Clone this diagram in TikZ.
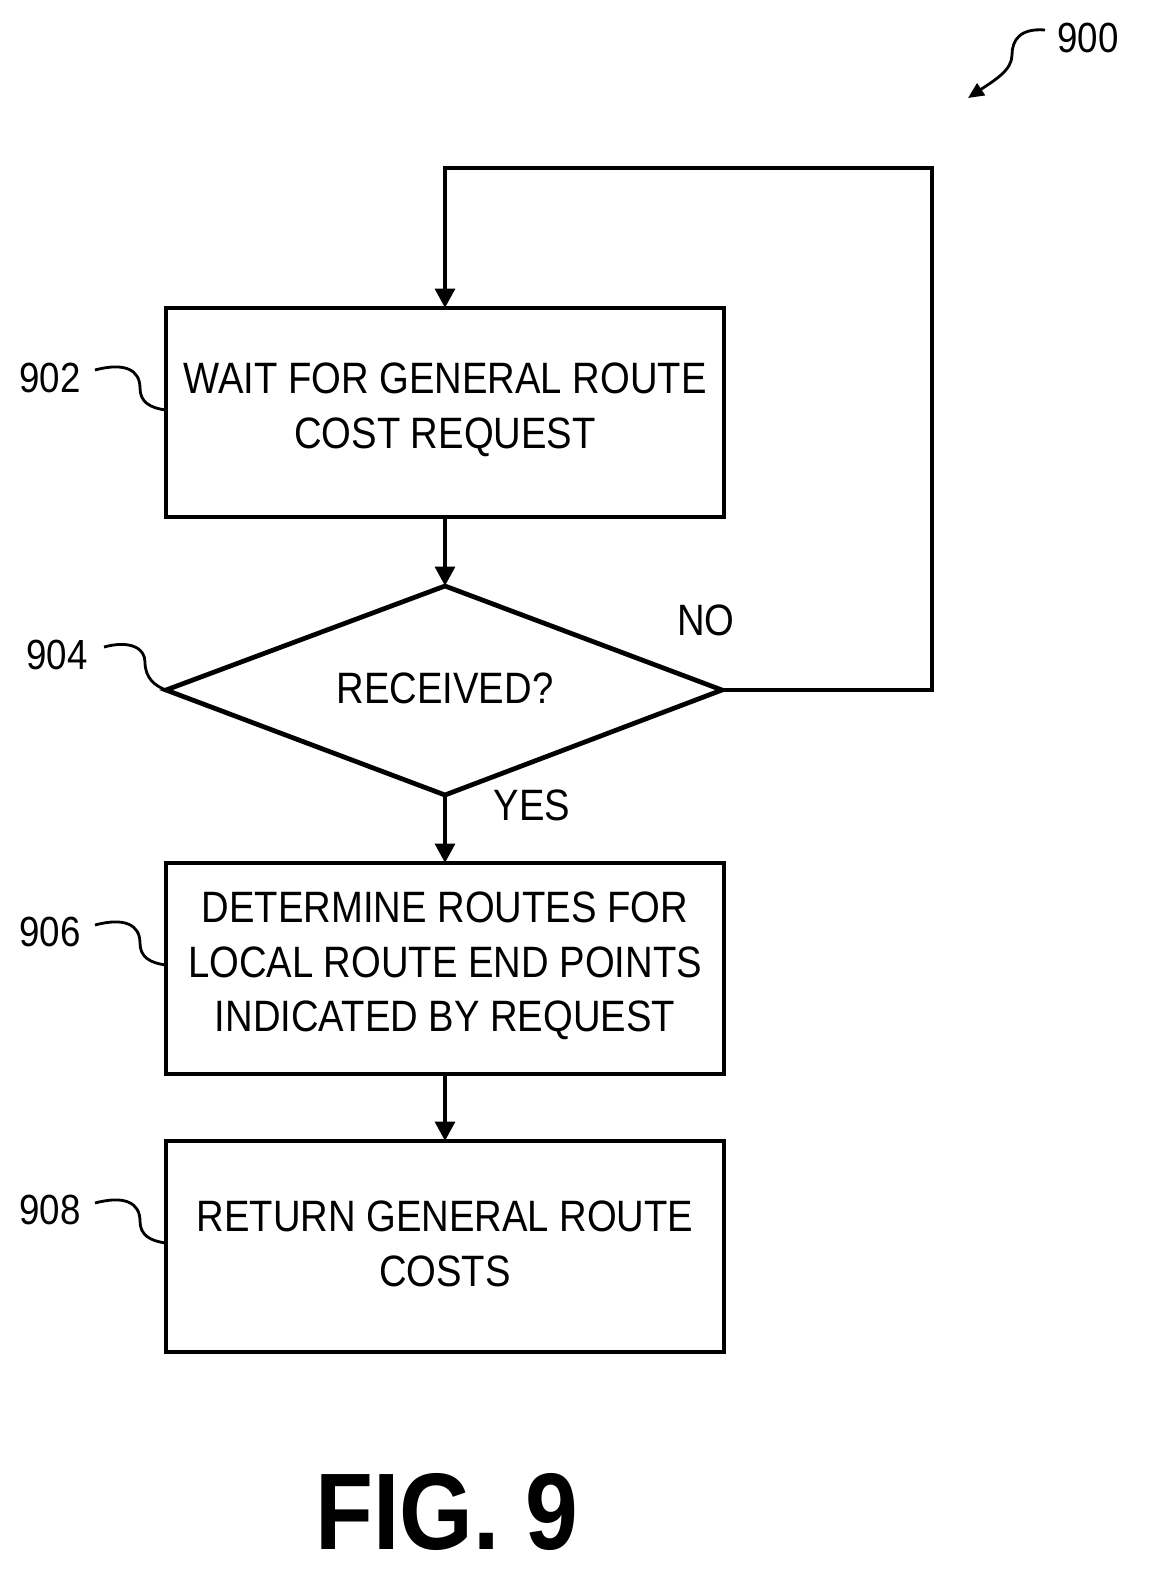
\documentclass[tikz,border=0pt]{standalone}
\usepackage{fontspec}
\setmainfont{Liberation Sans}
\usetikzlibrary{arrows.meta}
\newcommand{\cnd}[1]{\scalebox{0.87}[1]{#1}}
\begin{document}
\begin{tikzpicture}[x=0.02cm,y=-0.02cm,
  ln/.style={line width=2.7pt},
  arr/.style={ln,-{Triangle[length=11pt,width=11pt]}},
  txt/.style={font=\fontsize{25}{31}\selectfont,align=center,inner sep=0},
  lab/.style={font=\fontsize{24}{28}\selectfont,inner sep=0},
  sq/.style={line width=1.6pt}]
\useasboundingbox (0,0) rectangle (1153,1590);
\draw[ln] (166,308) rectangle (724,517);
\node[txt] (t902) at (445,410) {\cnd{WAIT FOR GENERAL ROUTE}\\\cnd{COST REQUEST}};
\coordinate (b902t) at (445,308);
\coordinate (b902b) at (445,517);
\draw[ln] (166,690) coordinate (dl) -- (445,586) coordinate (dt) -- (722,690) coordinate (dr) -- (445,795) coordinate (db) -- cycle;
\node[txt] (t904) at (445,688) {\cnd{RECEIVED?}};
\draw[ln] (166,863) rectangle (724,1074);
\node[txt] (t906) at (445,966) {\cnd{DETERMINE ROUTES FOR}\\\cnd{LOCAL ROUTE END POINTS}\\\cnd{INDICATED BY REQUEST}};
\coordinate (b906t) at (445,863); \coordinate (b906b) at (445,1074);
\draw[ln] (166,1141) rectangle (724,1352);
\node[txt] (t908) at (445,1244) {\cnd{RETURN GENERAL ROUTE}\\\cnd{COSTS}};
\coordinate (b908t) at (445,1141);
\draw[arr] (b902b) -- (dt);
\draw[arr] (db) -- (b906t);
\draw[arr] (b906b) -- (b908t);
\coordinate (c1) at (932,690); \coordinate (c2) at (932,168); \coordinate (c3) at (445,168);
\draw[arr] (dr) -- (c1) -- (c2) -- (c3) -- (b902t);
\node[txt] (no) at (706,620) {\cnd{NO}};
\node[txt] (yes) at (532,805) {\cnd{YES}};
\node[lab] (l902) at (50,378) {\cnd{902}};
\node[lab] (l904) at (57,655) {\cnd{904}};
\node[lab] (l906) at (50,932) {\cnd{906}};
\node[lab] (l908) at (50,1210) {\cnd{908}};
\node[lab] (l900) at (1088,38) {\cnd{900}};
\foreach \y in {370,925,1203}{
 \draw[sq] (95,\y) .. controls (125,\y-8) and (140,\y) .. (140,\y+18) .. controls (140,\y+32) and (150,\y+38) .. (166,\y+40);}
\draw[sq] (104,647) .. controls (130,640) and (145,648) .. (145,662) .. controls (145,678) and (155,686) .. (166,690);
\draw[sq,-{Triangle[length=9pt,width=8pt]}] (1045,30) .. controls (1020,28) and (1012,40) .. (1012,55) .. controls (1012,70) and (995,80) .. (968,98);
\node[font=\bfseries\fontsize{62}{62}\selectfont,inner sep=0] (fig) at (447,1512) {\cnd{FIG. 9}};
\end{tikzpicture}
\end{document}
